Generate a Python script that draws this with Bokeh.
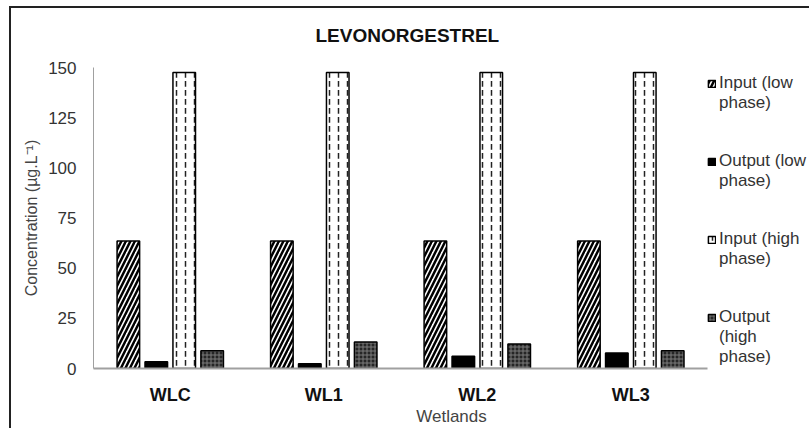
from bokeh.plotting import figure
from bokeh.models import ColumnDataSource, Range1d, Legend, LegendItem, FixedTicker
from bokeh.transform import dodge
from bokeh.embed import file_html
from bokeh.resources import INLINE

categories = ["WLC", "WL1", "WL2", "WL3"]
input_low = [63.5, 63.5, 63.5, 63.5]
output_low = [3.4, 2.4, 6.1, 7.7]
input_high = [147.5, 147.5, 147.5, 147.5]
output_high = [8.8, 13.2, 12.2, 8.8]
y_ticks = [0, 25, 50, 75, 100, 125, 150]
# legend text, one entry per line (first line carries the swatch)
legend_lines = [["Input (low", "phase)"], ["Output (low", "phase)"],
                ["Input (high", "phase)"], ["Output", "(high", "phase)"]]

# category slots on a numeric axis: slot i is centred at i + 0.5
centers = [i + 0.5 for i in range(len(categories))]
source = ColumnDataSource(dict(x=centers, cat=categories, il=input_low, ol=output_low,
                               ih=input_high, oh=output_high))

FONT = "Liberation Sans"

# extra room on the right of the x range holds the legend
p = figure(x_range=Range1d(0, len(categories) * 1.166), y_range=Range1d(0, 150),
           width=809, height=428, output_backend="svg", toolbar_location=None,
           min_border_left=93, min_border_top=67, min_border_bottom=57, min_border_right=0)
p.border_fill_alpha = 0
p.background_fill_alpha = 0
p.styles = {"box-shadow": "inset 9px 6px 0 0 #ffffff, inset 11px 8px 0 0 #222222"}

w = 0.147
slot = 0.182
r1 = p.vbar(x=dodge("x", -1.5 * slot), top="il", width=w, source=source,
            fill_color="white", line_color="black", line_width=1.5,
            hatch_pattern="right_diagonal_line", hatch_color="black", hatch_scale=9, hatch_weight=2.5)
r2 = p.vbar(x=dodge("x", -0.5 * slot), top="ol", width=w, source=source,
            fill_color="black", line_color="black", line_width=1.5)
r3 = p.vbar(x=dodge("x", 0.5 * slot), top="ih", width=w, source=source,
            fill_color="white", line_color="black", line_width=1.5,
            hatch_pattern="vertical_dash", hatch_color="#222", hatch_scale=9, hatch_weight=1.5)
r4 = p.vbar(x=dodge("x", 1.5 * slot), top="oh", width=w, source=source,
            fill_color="#262626", line_color="black", line_width=1.5,
            hatch_pattern="cross", hatch_color="#7a7a7a", hatch_scale=4, hatch_weight=1)
# invisible renderer used only for legend continuation lines
blank = p.scatter(x=[], y=[], size=1, fill_alpha=0, line_alpha=0)

p.title.text = "LEVONORGESTREL"
p.title.align = "left"
p.title.text_font = FONT
p.title.text_font_size = "19px"
p.title.text_font_style = "bold"
p.title.text_color = "#111"
p.title.standoff = 44
p.title.offset = 222

p.xgrid.grid_line_color = None
p.ygrid.grid_line_color = None
p.outline_line_color = None

p.yaxis.ticker = FixedTicker(ticks=y_ticks)
p.yaxis.axis_line_color = "#a0a0a0"
p.yaxis.major_tick_line_color = None
p.yaxis.minor_tick_line_color = None
p.yaxis.major_label_standoff = 11
p.yaxis.major_label_text_font = FONT
p.yaxis.major_label_text_font_size = "17px"
p.yaxis.major_label_text_color = "#333"
p.yaxis.axis_label = "Concentration (µg.L⁻¹)"
p.yaxis.axis_label_text_font = FONT
p.yaxis.axis_label_text_font_size = "16px"
p.yaxis.axis_label_text_font_style = "normal"
p.yaxis.axis_label_text_color = "#444"

p.xaxis.ticker = FixedTicker(ticks=centers)
p.xaxis.major_label_overrides = {c: name for c, name in zip(centers, categories)}
p.xaxis.bounds = (0, len(categories))
p.xaxis.axis_line_color = "#a0a0a0"
p.xaxis.axis_line_width = 2
p.xaxis.major_tick_line_color = None
p.xaxis.minor_tick_line_color = None
p.xaxis.major_label_standoff = 10
p.xaxis.major_label_text_font = FONT
p.xaxis.major_label_text_font_size = "18px"
p.xaxis.major_label_text_font_style = "bold"
p.xaxis.major_label_text_color = "#111"
p.xaxis.axis_label = "Wetlands"
p.xaxis.axis_label_text_font = FONT
p.xaxis.axis_label_text_font_size = "17px"
p.xaxis.axis_label_text_font_style = "normal"
p.xaxis.axis_label_text_color = "#444"
p.xaxis.axis_label_standoff = -1

# build legend rows: ~19px pitch, blank rows in between to space the entries
series_renderers = [r1, r2, r3, r4]
items = []
for i, (lines, r) in enumerate(zip(legend_lines, series_renderers)):
    items.append(LegendItem(label=lines[0], renderers=[r]))
    for extra in lines[1:]:
        items.append(LegendItem(label=extra, renderers=[blank]))
    if i < 3:
        for _ in range(4 - len(lines)):
            items.append(LegendItem(label=" ", renderers=[blank]))

legend = Legend(items=items, location=(614, 1), border_line_color=None,
                background_fill_alpha=0, glyph_width=9, glyph_height=9, label_standoff=3,
                spacing=0, padding=0, margin=0, label_text_font=FONT,
                label_text_font_size="17px", label_text_color="#333", label_height=19,
                label_text_line_height=1.0)
p.add_layout(legend, "center")

open("out.html", "w").write(file_html(p, INLINE))
